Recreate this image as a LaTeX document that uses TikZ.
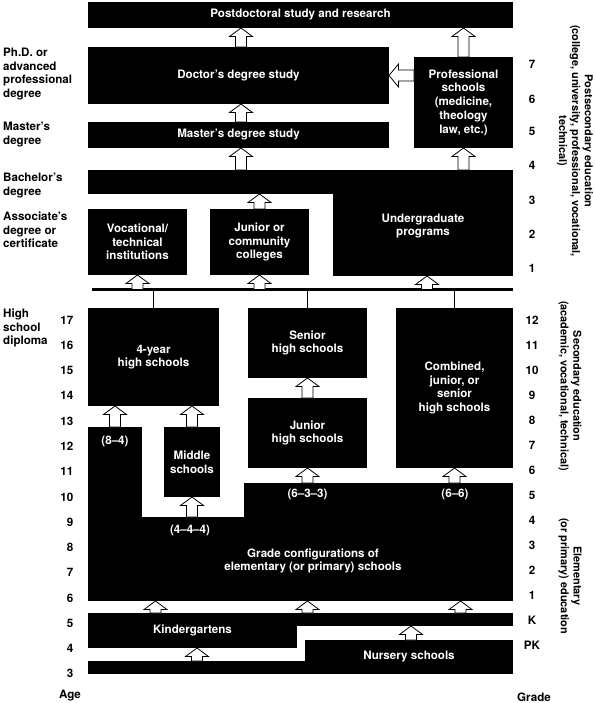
\documentclass[tikz,border=0pt]{standalone}
\usepackage{fontspec}
\setmainfont{TeX Gyre Heros}
\usetikzlibrary{calc}
\newcommand{\lblfont}{\fontsize{11.6}{13.7}\selectfont\bfseries}
\newcommand{\rotfont}{\fontsize{10.9}{12.8}\selectfont\bfseries}
\tikzset{
  blk/.style={fill=black, draw=none, text=white, font=\lblfont, align=center,
    inner sep=0pt, outer sep=0pt, anchor=north west},
  wtxt/.style={text=white, font=\lblfont, align=center, inner sep=0pt},
  lbl/.style={font=\lblfont, align=left, inner sep=0pt, anchor=west},
  num/.style={font=\lblfont, inner sep=0pt},
  rot/.style={font=\rotfont, align=center, inner sep=0pt, rotate=-90},
  arr/.style={fill=white, draw=black, line width=0.8pt, line join=miter},
  busline/.style={line width=2.5pt},
  drop/.style={line width=1pt},
}
% box: name, x1, y1, x2, y2, text
\newcommand{\bx}[6]{\node[blk, minimum width={(#4)-(#2)}, minimum height={(#5)-(#3)}] (#1) at (#2,#3) {#6};}
% hollow upward block arrow: base point, tip point (x from base)
\newcommand{\uarr}[2]{\draw[arr] let \p1=#1, \p2=#2 in
  (\x1-5.5pt,\y1) -- (\x1-5.5pt,\y2-8.5pt) -- (\x1-11.5pt,\y2-8.5pt) -- (\x1,\y2)
  -- (\x1+11.5pt,\y2-8.5pt) -- (\x1+5.5pt,\y2-8.5pt) -- (\x1+5.5pt,\y1) -- cycle;}
% hollow leftward block arrow: base point (x), tip point (x and y)
\newcommand{\larr}[2]{\draw[arr] let \p1=#1, \p2=#2 in
  (\x1,\y2-5.5pt) -- (\x2+9.5pt,\y2-5.5pt) -- (\x2+9.5pt,\y2-11.5pt) -- (\x2,\y2)
  -- (\x2+9.5pt,\y2+11.5pt) -- (\x2+9.5pt,\y2+5.5pt) -- (\x1,\y2+5.5pt) -- cycle;}
\begin{document}
\begin{tikzpicture}[x=1pt,y=-1pt]
\useasboundingbox (0,0) rectangle (594,703);

% ---------- postsecondary ----------
\bx{postdoc}{88}{2}{513}{28}{Postdoctoral study and research}
\bx{doctor}{88}{47}{389}{104}{Doctor's degree study}
\bx{master}{88}{122}{389}{148}{Master's degree study}
\bx{prof}{414}{57}{513}{148}{Professional\\schools\\(medicine,\\theology\\law, etc.)}
\bx{bachelor}{88}{170}{513}{194}{}
\bx{undergrad}{333}{176}{513}{276}{Undergraduate\\programs}
\bx{vocational}{88}{209}{187}{275}{Vocational/\\technical\\institutions}
\bx{community}{210}{209}{309}{275}{Junior or\\community\\colleges}

% ---------- secondary ----------
\bx{fouryear}{88}{308}{219}{406}{4-year\\high schools}
\bx{senior}{248}{308}{367}{378}{Senior\\high schools}
\bx{junior}{248}{398}{367}{468}{Junior\\high schools}
\bx{combined}{396}{308}{513}{468}{Combined,\\junior, or\\senior\\high schools}
\bx{middle}{164}{427}{220}{497}{Middle\\schools}

% ---------- elementary ----------
\bx{e84}{88}{427}{142}{517}{}
\bx{elemtop}{244}{483}{513}{517}{}
\bx{elem}{88}{517}{513}{601}{}
\node[wtxt] (t84) at (115,441) {(8–4)};
\node[wtxt] (t444) at (190,530) {(4–4–4)};
\node[wtxt] (t633) at (307.5,494) {(6–3–3)};
\node[wtxt] (t66) at (455,494) {(6–6)};
\node[wtxt] (tgrade) at (313,561) {Grade configurations of\\elementary (or primary) schools};

% ---------- pre-primary ----------
\bx{kbar}{88}{613}{513}{626}{}
\bx{kblock}{88}{613}{297}{648}{Kindergartens}
\bx{nbar}{88}{661}{305}{674}{}
\bx{nblock}{305}{640}{513}{674}{Nursery schools}

% ---------- bus line and drops ----------
\coordinate (bus) at (92,289.5);
\coordinate (busend) at (513,289.5);
\draw[busline] (bus) -- (busend);
\draw[drop] (fouryear.north) -- (fouryear.north |- bus);
\draw[drop] (senior.north) -- (senior.north |- bus);
\draw[drop] (combined.north) -- (combined.north |- bus);

% ---------- arrows ----------
\uarr{($(doctor.north)+(2.5,0)$)}{(postdoc.south)}
\uarr{($(master.north)+(2.5,0)$)}{(doctor.south)}
\uarr{($(bachelor.north -| master.north)+(2.5,0)$)}{(master.south)}
\uarr{(prof.north)}{(prof.north |- postdoc.south)}
\uarr{(bachelor.north -| prof.north)}{(prof.south)}
\uarr{(community.north)}{(community.north |- bachelor.south)}
\larr{(prof.west)}{(doctor.east)}
\uarr{(bus -| vocational.south)}{(vocational.south)}
\uarr{(bus -| community.south)}{(community.south)}
\uarr{($(bus -| undergrad.south)+(4,0)$)}{($(undergrad.south)+(4,0)$)}
\uarr{(e84.north)}{(e84.north |- fouryear.south)}
\uarr{(middle.north)}{(middle.north |- fouryear.south)}
\uarr{(junior.north)}{(senior.south)}
\uarr{(elemtop.north -| junior.south)}{(junior.south)}
\uarr{(elemtop.north -| combined.south)}{(combined.south)}
\uarr{(elem.north -| middle.south)}{(middle.south)}
\foreach \dx in {-152,0,153}{
  \uarr{($(kbar.north -| junior.south)+(\dx,0)$)}{($(elem.south -| junior.south)+(\dx,0)$)}
}
\uarr{($(nbar.north -| kblock.south)+(4.5,0)$)}{($(kblock.south)+(4.5,0)$)}
\uarr{($(nblock.north)+(2,0)$)}{($(kbar.south -| nblock.north)+(2,0)$)}

% ---------- left labels ----------
\node[lbl] (lphd) at (3,74) {Ph.D. or\\advanced\\professional\\degree};
\node[lbl] (lmas) at (3,134.5) {Master's\\degree};
\node[lbl] (lbac) at (3,185.5) {Bachelor's\\degree};
\node[lbl] (lass) at (3,230) {Associate's\\degree or\\certificate};
\node[lbl] (lhs) at (3,328) {High\\school\\diploma};

% ---------- ages ----------
\foreach \a in {3,...,17}{
  \node[num, anchor=east] (age\a) at (73.5,{320+(17-\a)*25.27}) {\a};
}
\node[num] (agelbl) at (70,696) {Age};

% ---------- grades ----------
\foreach \g in {1,...,12}{
  \node[num] (gr\g) at (532,{320+(12-\g)*25}) {\g};
}
\node[num] (grK) at (532,620) {K};
\node[num] (grPK) at (532,645) {PK};
\node[num] (gradelbl) at (534,697) {Grade};
\foreach \g/\yy in {1/268,2/234,3/200,4/165,5/131,6/99,7/64}{
  \node[num] (ps\g) at (532,\yy) {\g};
}

% ---------- rotated side labels ----------
\node[rot] (tpost) at (575,141) {Postsecondary education\\(college, university, professional, vocational,\\technical)};
\node[rot] (tsec) at (570,386) {Secondary education\\(academic, vocational, technical)};
\node[rot] (telem) at (570,576) {Elementary\\(or primary) education};
\end{tikzpicture}
\end{document}
